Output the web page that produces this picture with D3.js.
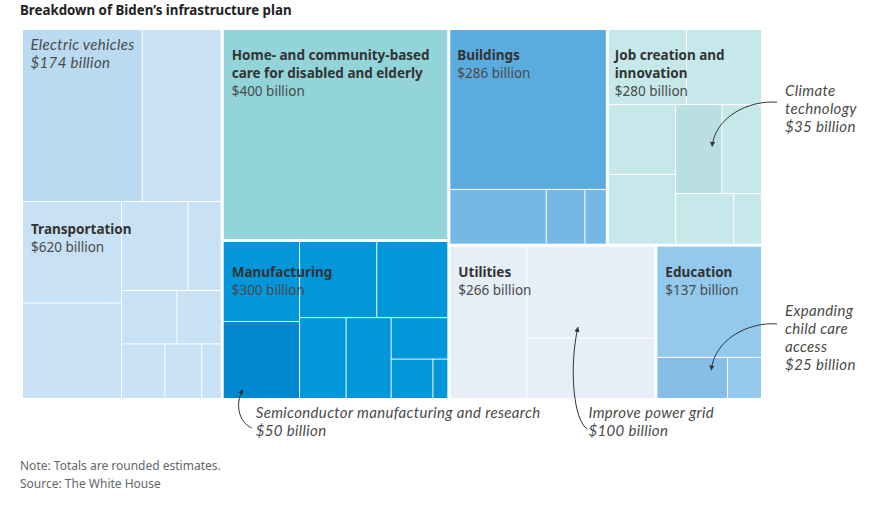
<!DOCTYPE html>
<html><head><meta charset="utf-8">
<script src="https://cdn.jsdelivr.net/npm/d3@7"></script>
<style>
body{margin:0;background:#fff;}
svg{font-family:"Noto Sans",sans-serif;display:block;}
.ann{font-family:Lato,"Noto Sans",sans-serif;letter-spacing:0.35px;}
</style>
</head><body>
<svg id="chart" width="889" height="505"></svg>
<script>
// ---------------- data ----------------
const groupNames = ["Transportation", "Home- and community-based care for disabled and elderly", "Manufacturing", "Buildings", "Job creation and innovation", "Utilities", "Education"];
const groupLabelLines = [["Transportation"], ["Home- and community-based", "care for disabled and elderly"], ["Manufacturing"], ["Buildings"], ["Job creation and", "innovation"], ["Utilities"], ["Education"]];
const groupTotals = [620, 400, 300, 286, 280, 266, 137];
const transportationValues = [174, 115, 85, 80, 50, 25, 25, 20, 20, 17, 9];
const homeCareValues = [400];
const manufacturingValues = [52, 50, 50, 46, 32, 31, 20, 14, 5];
const buildingsValues = [213, 45, 18, 10];
const jobCreationValues = [50, 48, 40, 40, 35, 30, 25, 12];
const utilitiesValues = [100, 100, 66];
const educationValues = [100, 25, 12];
const groupValues = [transportationValues, homeCareValues, manufacturingValues, buildingsValues, jobCreationValues, utilitiesValues, educationValues];

// annotated items: group index, item index, text lines
const annotationGroups = [0, 2, 4, 5, 6];
const annotationItems = [0, 1, 4, 1, 1];
const annotationLines = [
  ["Electric vehicles", "$174 billion"],
  ["Semiconductor manufacturing and research", "$50 billion"],
  ["Climate", "technology", "$35 billion"],
  ["Improve power grid", "$100 billion"],
  ["Expanding", "child care", "access", "$25 billion"]
];
const titleText = "Breakdown of Biden\u2019s infrastructure plan";
const noteLines = ["Note: Totals are rounded estimates.", "Source: The White House"];

// ---------------- styles ----------------
const baseColors = ["#c9e1f4", "#92d4d9", "#0296db", "#76b8e5", "#c7e8ea", "#e6eef8", "#93c9ec"];
const accentColors = {"0-0": "#badaf1", "2-1": "#0188d1", "4-4": "#badfe3", "6-1": "#86bee8", "3-0": "#5aacdf"};

const svg = d3.select("#chart");
const X0 = 23, Y0 = 30, W = 738, H = 368;

const tileByGroup = {
  "Transportation": d3.treemapSquarify.ratio(1.4),
  "Job creation and innovation": d3.treemapSquarify.ratio(1.3),
  "Utilities": d3.treemapBinary
};
function tile(node, x0, y0, x1, y1) {
  const f = node.depth === 0 ? d3.treemapSquarify.ratio(1)
    : (tileByGroup[node.data.name] || d3.treemapSquarify.ratio(1));
  f(node, x0, y0, x1, y1);
}

const data = {
  name: "root",
  children: groupNames.map((g, i) => ({
    name: g, gi: i,
    children: groupValues[i].map((v, j) => ({name: g + "-" + j, gi: i, j: j, value: v}))
  }))
};

const root = d3.hierarchy(data).sum(d => d.value || 0);
d3.treemap()
  .size([W, H])
  .tile(tile)
  .paddingInner(d => d.depth === 0 ? 3 : 1)
  .round(false)(root);

const g = svg.append("g").attr("transform", `translate(${X0},${Y0})`);

g.selectAll("rect.leaf")
  .data(root.leaves())
  .join("rect")
  .attr("class", "leaf")
  .attr("x", d => d.x0).attr("y", d => d.y0)
  .attr("width", d => d.x1 - d.x0).attr("height", d => d.y1 - d.y0)
  .attr("fill", d => accentColors[d.data.gi + "-" + d.data.j] || baseColors[d.data.gi]);

const groupsNodes = root.children;
const leafOf = (gi, j) => groupsNodes[gi].children[j];

// group labels
groupsNodes.forEach((node, i) => {
  let y;
  if (i === 0) y = leafOf(0, 0).y1 + 33;
  else if (i === 2) y = node.y0 + 35;
  else y = node.y0 + 30;
  const lx = node.x0 + (i === 4 ? 6 : (i === 3 ? 7 : 8));
  const lines = groupLabelLines[i];
  const t = g.append("text").attr("x", lx).attr("y", y)
    .style("font-size", "13.5px");
  lines.forEach((l, k) => {
    t.append("tspan").attr("x", lx).attr("dy", k === 0 ? 0 : 18)
      .attr("font-weight", 700).attr("fill", "#333").text(l);
  });
  t.append("tspan").attr("x", lx).attr("dy", 18)
    .attr("fill", "#4a4a4a").text("$" + groupTotals[i] + " billion");
});

// arrow marker
svg.append("defs").append("marker")
  .attr("id", "ah").attr("viewBox", "0 -4 8 8")
  .attr("refX", 6).attr("refY", 0)
  .attr("markerWidth", 6).attr("markerHeight", 6)
  .attr("markerUnits", "userSpaceOnUse")
  .attr("orient", "auto")
  .append("path").attr("d", "M0,-3.5L7,0L0,3.5Z").attr("fill", "#333");

function annText(x, y, lines) {
  lines.forEach((l, k) => g.append("text").attr("class", "ann")
    .attr("x", x).attr("y", y + 18 * k)
    .style("font-size", "15px").style("font-style", "italic").attr("fill", "#4a4a4a").text(l));
}
function arrow(p) {
  g.append("path").attr("d", p.toString()).attr("fill", "none")
    .attr("stroke", "#333").attr("stroke-width", 1).attr("marker-end", "url(#ah)");
}

// EV (inside)
{
  const L = leafOf(annotationGroups[0], annotationItems[0]);
  annText(L.x0 + 7.5, L.y0 + 20, annotationLines[0]);
}
// Semiconductors
{
  const L = leafOf(annotationGroups[1], annotationItems[1]);
  const tx = L.x0 + 32, ty = H + 20;
  annText(tx, ty, annotationLines[1]);
  const sx = tx - 4, sy = ty + 10, ex = L.x0 + 19, ey = L.y1 - 8;
  const p = d3.path(); p.moveTo(sx, sy);
  p.bezierCurveTo(sx - 13, sy - 6, ex - 8, ey + 14, ex, ey); arrow(p);
}
// Climate technology
{
  const L = leafOf(annotationGroups[2], annotationItems[2]);
  const tx = W + 24, ty = L.y0 - 9;
  annText(tx, ty, annotationLines[2]);
  const sx = tx - 8, sy = ty + 6, ex = L.x0 + 36, ey = L.y0 + 41;
  const p = d3.path(); p.moveTo(sx, sy);
  p.bezierCurveTo(sx - 0.45 * (sx - ex), sy - 2, ex + 3, ey - 0.65 * (ey - sy), ex, ey); arrow(p);
}
// Power grid
{
  const L = leafOf(annotationGroups[3], annotationItems[3]);
  const tx = L.x0 + 61, ty = H + 20;
  annText(tx, ty, annotationLines[3]);
  const sx = tx - 1, sy = ty + 11, ex = (L.x0 + L.x1) / 2 - 13, ey = L.y1 - 10;
  const p = d3.path(); p.moveTo(sx, sy);
  p.bezierCurveTo(sx - 14, sy - 8, ex - 9, ey + 40, ex, ey); arrow(p);
}
// Child care
{
  const L = leafOf(annotationGroups[4], annotationItems[4]);
  const tx = W + 24, ty = L.y0 - 42;
  annText(tx, ty, annotationLines[4]);
  const sx = tx - 8, sy = ty + 8, ex = L.x0 + 54, ey = L.y0 + 12;
  const p = d3.path(); p.moveTo(sx, sy);
  p.bezierCurveTo(sx - 0.45 * (sx - ex), sy - 2, ex + 3, ey - 0.65 * (ey - sy), ex, ey); arrow(p);
}

// title
svg.append("text").attr("x", 20).attr("y", 15)
  .attr("font-weight", 700).style("font-size", "13.3px").attr("fill", "#222").text(titleText);

// notes
const nt = svg.append("text").attr("x", 20).attr("y", 469.5).style("font-size", "12px").attr("fill", "#666");
noteLines.forEach((l, k) => nt.append("tspan").attr("x", 20).attr("dy", k === 0 ? 0 : 18).text(l));
</script>
</body></html>
